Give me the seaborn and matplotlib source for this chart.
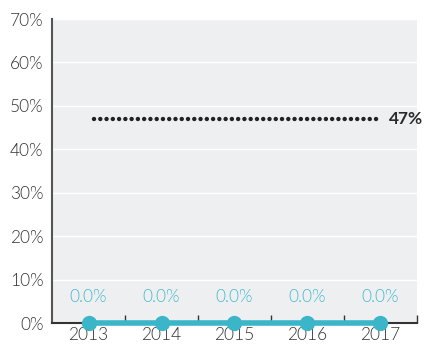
import pandas as pd
import matplotlib.pyplot as plt
import seaborn as sns

# chart data
years = ["2013", "2014", "2015", "2016", "2017"]
values = [0.0, 0.0, 0.0, 0.0, 0.0]
target = 47

df = pd.DataFrame({"Year": years, "Value": values})

sns.set_style("whitegrid", {"axes.facecolor": "#eeeff1", "grid.color": "white"})
plt.rcParams["font.family"] = ["Lato", "DejaVu Sans"]

fig = plt.figure(figsize=(4.25, 3.44), dpi=100)
ax = fig.add_axes([52 / 425, 21 / 344, 365 / 425, 304 / 344])

teal = "#3bb5c8"
sns.lineplot(x="Year", y="Value", data=df, ax=ax, color=teal, linewidth=4,
             marker="o", markersize=11, markeredgewidth=0, clip_on=False, zorder=5)

# target line
ax.plot([0.07, 4.01], [target, target], color="#222222", linestyle=(0, (0.01, 1.4)),
        linewidth=3.2, dash_capstyle="round", clip_on=False)
ax.text(4.12, target, f"{target}%", fontsize=12.5, fontweight="bold", color="#2a2a2a",
        va="center", ha="left", clip_on=False)

for i, v in enumerate(values):
    ax.text(i, 6, f"{v:.1f}%", color="#45bacd", fontsize=12.5, fontweight=300,
            ha="center", va="center")

ax.set_xlim(-0.5, 4.5)
ax.set_ylim(0, 70)
ax.set_yticks(range(0, 71, 10))
ax.set_yticklabels([f"{t}%" for t in range(0, 71, 10)], fontweight=300)
ax.set_xticks(range(len(years)))
ax.set_xticklabels(years, fontweight=300)
ax.set_xticks([0.5, 1.5, 2.5, 3.5, 4.5], minor=True)
ax.grid(axis="x", visible=False)
ax.grid(axis="y", color="white", linewidth=1)
ax.set_xlabel("")
ax.set_ylabel("")

for s in ["top", "right"]:
    ax.spines[s].set_visible(False)
ax.spines["left"].set_color("#555555")
ax.spines["left"].set_linewidth(1.5)
ax.spines["bottom"].set_color("#333333")
ax.spines["bottom"].set_linewidth(1.5)

ax.tick_params(axis="y", length=0, labelsize=12.5, labelcolor="#333333", pad=6)
ax.tick_params(axis="x", which="major", length=0, labelsize=12.5, labelcolor="#333333", pad=3)
ax.tick_params(axis="x", which="minor", direction="in", length=6, width=1, color="#333333", bottom=True)

plt.savefig("out.png", dpi=100)
